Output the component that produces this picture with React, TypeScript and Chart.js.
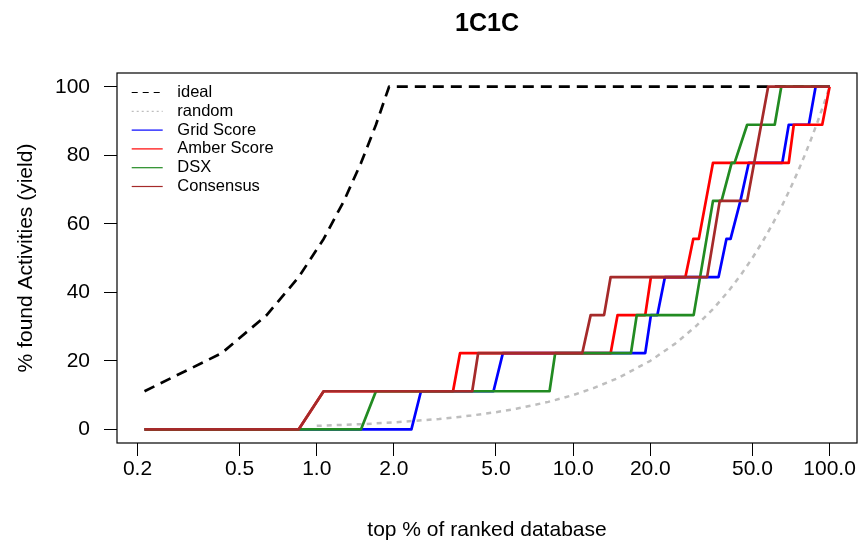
import React, { useEffect, useRef } from 'react';
import { Chart, registerables } from 'chart.js';

Chart.register(...registerables);

const FONT = "'Liberation Sans', Arial, Helvetica, sans-serif";

const chartTitle = '1C1C';
const xAxisTitle = 'top % of ranked database';
const yAxisTitle = '% found Activities (yield)';

const xTickValues = [0.2, 0.5, 1, 2, 5, 10, 20, 50, 100];
const xTickLabels = ['0.2', '0.5', '1.0', '2.0', '5.0', '10.0', '20.0', '50.0', '100.0'];
const yTickValues = [0, 20, 40, 60, 80, 100];

const seriesLabels = ['ideal', 'random', 'Grid Score', 'Amber Score', 'DSX', 'Consensus'];

const idealX = [0.213, 0.426, 0.638, 0.851, 1.064, 1.277, 1.489, 1.702, 1.915, 100];
const idealY = [11.11, 22.22, 33.33, 44.44, 55.56, 66.67, 77.78, 88.89, 100, 100];

const randomX = [1, 1.5, 2, 3, 4, 5, 6, 8, 10, 12, 15, 20, 25, 30, 35, 40, 45, 50, 55, 60, 65, 70, 75, 80, 85, 90, 95, 100];
const randomY = [1, 1.5, 2, 3, 4, 5, 6, 8, 10, 12, 15, 20, 25, 30, 35, 40, 45, 50, 55, 60, 65, 70, 75, 80, 85, 90, 95, 100];

const gridX = [0.213, 2.34, 2.55, 4.89, 5.32, 19.1, 20.1, 21.3, 22.8, 36.9, 39.6, 41.1, 44.9, 48.4, 65.4, 69.3, 83.0, 88.2, 100];
const gridY = [0, 0, 11.11, 11.11, 22.22, 22.22, 33.33, 33.33, 44.44, 44.44, 55.56, 55.56, 66.67, 77.78, 77.78, 88.89, 88.89, 100, 100];

const amberX = [0.213, 0.851, 1.064, 3.4, 3.62, 14.0, 14.9, 19.1, 20.1, 27.4, 29.4, 30.9, 35.1, 69.3, 72.5, 93.6, 100];
const amberY = [0, 0, 11.11, 11.11, 22.22, 22.22, 33.33, 33.33, 44.44, 44.44, 55.56, 55.56, 77.78, 77.78, 88.89, 88.89, 100];

const dsxX = [0.213, 1.489, 1.702, 8.09, 8.51, 16.8, 17.7, 29.5, 35.1, 37.9, 41.5, 42.6, 47.7, 61.1, 64.8, 100];
const dsxY = [0, 0, 11.11, 11.11, 22.22, 22.22, 33.33, 33.33, 66.67, 66.67, 77.78, 77.78, 88.89, 88.89, 100, 100];

const consensusX = [0.213, 0.851, 1.064, 4.04, 4.26, 10.85, 11.7, 13.2, 14.0, 33.3, 37.3, 47.7, 57.6, 100];
const consensusY = [0, 0, 11.11, 11.11, 22.22, 22.22, 33.33, 33.33, 44.44, 44.44, 66.67, 66.67, 100, 100];

const legendDashes = [[6, 5], [2, 3], [], [], [], []];

const toPoints = (xs: number[], ys: number[]) => xs.map((x, i) => ({ x, y: ys[i] }));

const plotBox = {
  id: 'plotBox',
  afterDraw(chart: any) {
    const { ctx, chartArea: a } = chart;
    ctx.save();
    ctx.strokeStyle = '#000';
    ctx.lineWidth = 1.2;
    ctx.setLineDash([]);
    ctx.strokeRect(a.left, a.top, a.right - a.left, a.bottom - a.top);
    ctx.restore();
  },
};

const insetLegend = {
  id: 'insetLegend',
  afterDraw(chart: any) {
    const { ctx, chartArea: a } = chart;
    ctx.save();
    ctx.font = `16.5px ${FONT}`;
    ctx.textBaseline = 'middle';
    ctx.textAlign = 'left';
    chart.data.datasets.forEach((ds: any, i: number) => {
      const y = a.top + 19.5 + i * 18.8;
      ctx.strokeStyle = ds.borderColor;
      ctx.lineWidth = 1.2;
      ctx.setLineDash(legendDashes[i]);
      ctx.beginPath();
      ctx.moveTo(a.left + 14.7, y);
      ctx.lineTo(a.left + 45.7, y);
      ctx.stroke();
      ctx.setLineDash([]);
      ctx.fillStyle = '#000';
      ctx.fillText(ds.label, a.left + 60.3, y);
    });
    ctx.restore();
  },
};

export default function App() {
  const ref = useRef<HTMLCanvasElement | null>(null);

  useEffect(() => {
    if (!ref.current) return;
    const common = {
      pointRadius: 0,
      fill: false,
      tension: 0,
      borderJoinStyle: 'round' as const,
      borderCapStyle: 'butt' as const,
    };
    const chart = new Chart(ref.current, {
      type: 'line',
      data: {
        datasets: [
          { ...common, label: seriesLabels[0], data: toPoints(idealX, idealY), borderColor: '#000000', borderWidth: 2.7, borderDash: [11, 7], order: 6 },
          { ...common, label: seriesLabels[1], data: toPoints(randomX, randomY), borderColor: '#BEBEBE', borderWidth: 2.5, borderDash: [5, 5], order: 5 },
          { ...common, label: seriesLabels[2], data: toPoints(gridX, gridY), borderColor: '#0000FF', borderWidth: 2.7, order: 4 },
          { ...common, label: seriesLabels[3], data: toPoints(amberX, amberY), borderColor: '#FF0000', borderWidth: 2.7, order: 3 },
          { ...common, label: seriesLabels[4], data: toPoints(dsxX, dsxY), borderColor: '#228B22', borderWidth: 2.7, order: 2 },
          { ...common, label: seriesLabels[5], data: toPoints(consensusX, consensusY), borderColor: '#A52A2A', borderWidth: 2.7, order: 1 },
        ],
      },
      options: {
        responsive: false,
        animation: false,
        devicePixelRatio: 1,
        events: [],
        layout: { padding: { left: 0, right: 4, top: 0, bottom: 0 } },
        plugins: {
          legend: { display: false },
          tooltip: { enabled: false },
          title: {
            display: true,
            text: chartTitle,
            color: '#000',
            fullSize: false,
            font: { family: FONT, size: 25, weight: 'bold' },
            padding: { top: 9, bottom: 34 },
          },
        },
        scales: {
          x: {
            type: 'logarithmic',
            min: 0.1664,
            max: 127.9,
            afterBuildTicks: (s: any) => {
              s.ticks = xTickValues.map((v) => ({ value: v }));
            },
            afterFit: (s: any) => {
              s.height = 101;
            },
            ticks: {
              autoSkip: false,
              maxRotation: 0,
              minRotation: 0,
              padding: 1,
              color: '#000',
              font: { family: FONT, size: 21 },
              callback: (_v: any, i: number) => xTickLabels[i],
            },
            grid: { drawOnChartArea: false, drawTicks: true, tickLength: 13, tickColor: '#000', tickWidth: 1 },
            border: { display: false },
            title: {
              display: true,
              text: xAxisTitle,
              color: '#000',
              font: { family: FONT, size: 21 },
              padding: { top: 0, bottom: 1 },
            },
          },
          y: {
            type: 'linear',
            min: -4,
            max: 104,
            afterBuildTicks: (s: any) => {
              s.ticks = yTickValues.map((v) => ({ value: v }));
            },
            afterFit: (s: any) => {
              s.width = 117;
            },
            ticks: {
              padding: 14,
              color: '#000',
              font: { family: FONT, size: 21 },
              callback: (v: any) => String(v),
            },
            grid: { drawOnChartArea: false, drawTicks: true, tickLength: 13, tickColor: '#000', tickWidth: 1 },
            border: { display: false },
            title: {
              display: true,
              text: yAxisTitle,
              color: '#000',
              font: { family: FONT, size: 21 },
              padding: { top: 14, bottom: 0 },
            },
          },
        },
      },
      plugins: [plotBox, insetLegend],
    } as any);
    return () => chart.destroy();
  }, []);

  return (
    <div style={{ position: 'absolute', left: 0, top: 0, width: 861, height: 544, background: '#fff' }}>
      <canvas ref={ref} width={861} height={544} style={{ display: 'block' }} />
    </div>
  );
}
